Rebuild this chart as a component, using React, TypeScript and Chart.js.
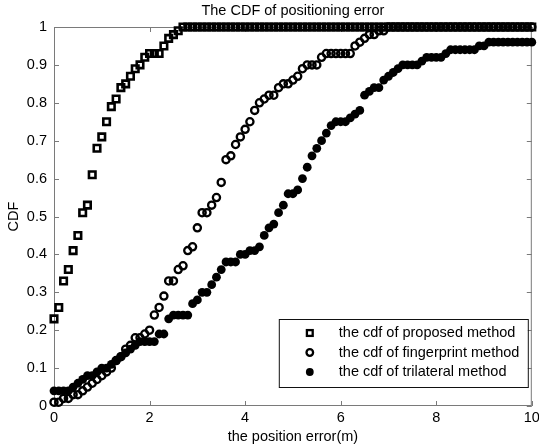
import React, { useEffect, useRef } from 'react';
import { Chart, registerables } from 'chart.js';

Chart.register(...registerables);

const chartTitle = 'The CDF of positioning error';
const xAxisTitle = 'the position error(m)';
const yAxisTitle = 'CDF';

const seriesLabels = [
  'the cdf of proposed method',
  'the cdf of fingerprint method',
  'the cdf of trilateral method',
];

// sampling grid of the position error (m), step 0.1 from 0 to 10
const errorSteps: number[] = Array.from({ length: 101 }, (_, i) => i / 10);

const proposedCdf = [
  0.23, 0.26, 0.33, 0.36, 0.41, 0.45, 0.51, 0.53, 0.61, 0.68,
  0.71, 0.75, 0.79, 0.81, 0.84, 0.85, 0.87, 0.89, 0.90, 0.92,
  0.93, 0.93, 0.93, 0.95, 0.97, 0.98, 0.99, 1, 1, 1,
  1, 1, 1, 1, 1, 1, 1, 1, 1, 1,
  1, 1, 1, 1, 1, 1, 1, 1, 1, 1,
  1, 1, 1, 1, 1, 1, 1, 1, 1, 1,
  1, 1, 1, 1, 1, 1, 1, 1, 1, 1,
  1, 1, 1, 1, 1, 1, 1, 1, 1, 1,
  1, 1, 1, 1, 1, 1, 1, 1, 1, 1,
  1, 1, 1, 1, 1, 1, 1, 1, 1, 1,
  1,
];

const fingerprintCdf = [
  0.01, 0.01, 0.02, 0.02, 0.03, 0.03, 0.04, 0.05, 0.06, 0.07,
  0.08, 0.09, 0.10, 0.12, 0.13, 0.15, 0.16, 0.18, 0.18, 0.19,
  0.20, 0.24, 0.26, 0.29, 0.33, 0.33, 0.36, 0.37, 0.41, 0.42,
  0.47, 0.51, 0.51, 0.53, 0.55, 0.59, 0.65, 0.66, 0.69, 0.71,
  0.73, 0.75, 0.78, 0.80, 0.81, 0.82, 0.82, 0.84, 0.85, 0.85,
  0.86, 0.87, 0.89, 0.90, 0.90, 0.90, 0.92, 0.93, 0.93, 0.93,
  0.93, 0.93, 0.93, 0.95, 0.96, 0.97, 0.98, 0.98, 0.99, 0.99,
  1, 1, 1, 1, 1, 1, 1, 1, 1, 1,
  1, 1, 1, 1, 1, 1, 1, 1, 1, 1,
  1, 1, 1, 1, 1, 1, 1, 1, 1, 1,
  1,
];

const trilateralCdf = [
  0.04, 0.04, 0.04, 0.04, 0.05, 0.06, 0.07, 0.08, 0.08, 0.09,
  0.10, 0.10, 0.11, 0.12, 0.13, 0.14, 0.15, 0.16, 0.17, 0.17,
  0.17, 0.17, 0.19, 0.19, 0.23, 0.24, 0.24, 0.24, 0.24, 0.27,
  0.28, 0.30, 0.30, 0.32, 0.34, 0.36, 0.38, 0.38, 0.38, 0.40,
  0.40, 0.41, 0.41, 0.42, 0.45, 0.47, 0.48, 0.51, 0.53, 0.56,
  0.56, 0.57, 0.60, 0.63, 0.66, 0.68, 0.70, 0.72, 0.74, 0.75,
  0.75, 0.75, 0.76, 0.77, 0.78, 0.82, 0.83, 0.84, 0.84, 0.86,
  0.87, 0.88, 0.89, 0.90, 0.90, 0.90, 0.90, 0.91, 0.92, 0.92,
  0.92, 0.92, 0.93, 0.94, 0.94, 0.94, 0.94, 0.94, 0.94, 0.95,
  0.95, 0.96, 0.96, 0.96, 0.96, 0.96, 0.96, 0.96, 0.96, 0.96,
  0.96,
];

const xTicks = [0, 2, 4, 6, 8, 10];
const xTickLabels = ['0', '2', '4', '6', '8', '10'];
const yTicks = [0, 0.1, 0.2, 0.3, 0.4, 0.5, 0.6, 0.7, 0.8, 0.9, 1];
const yTickLabels = ['0', '0.1', '0.2', '0.3', '0.4', '0.5', '0.6', '0.7', '0.8', '0.9', '1'];

const FONT_FAMILY = '"Liberation Sans", Arial, Helvetica, sans-serif';
const FONT_SIZE = 14.5;

const markerStyles = ['square', 'circle', 'dot'];

function drawMarker(ctx: CanvasRenderingContext2D, kind: string, x: number, y: number) {
  ctx.save();
  ctx.strokeStyle = '#000';
  ctx.fillStyle = '#000';
  ctx.lineWidth = 2.3;
  if (kind === 'square') {
    ctx.strokeRect(x - 2.9, y - 2.9, 5.8, 5.8);
  } else if (kind === 'circle') {
    ctx.beginPath();
    ctx.arc(x, y, 3.3, 0, Math.PI * 2);
    ctx.stroke();
  } else {
    ctx.beginPath();
    ctx.arc(x, y, 3.9, 0, Math.PI * 2);
    ctx.fill();
  }
  ctx.restore();
}

const framePlugin = {
  id: 'matlabFrame',
  beforeDatasetsDraw(chart: any) {
    const { ctx, chartArea: a, scales } = chart;
    ctx.save();
    ctx.strokeStyle = '#7a7a7a';
    ctx.lineWidth = 1;
    ctx.strokeRect(a.left + 0.5, a.top + 0.5, a.right - a.left - 1, a.bottom - a.top - 1);
    const len = 5;
    ctx.beginPath();
    xTicks.forEach((v) => {
      const px = Math.round(scales.x.getPixelForValue(v)) + 0.5;
      ctx.moveTo(px, a.bottom);
      ctx.lineTo(px, a.bottom - len);
      ctx.moveTo(px, a.top);
      ctx.lineTo(px, a.top + len);
    });
    yTicks.forEach((v) => {
      const py = Math.round(scales.y.getPixelForValue(v)) + 0.5;
      ctx.moveTo(a.left, py);
      ctx.lineTo(a.left + len, py);
      ctx.moveTo(a.right, py);
      ctx.lineTo(a.right - len, py);
    });
    ctx.stroke();
    ctx.restore();
  },
};

const legendPlugin = {
  id: 'matlabLegend',
  afterDatasetsDraw(chart: any) {
    const { ctx, chartArea: a } = chart;
    const right = a.right - 4;
    const width = 249;
    const bottom = a.bottom - 19;
    const height = 68;
    const left = right - width;
    const top = bottom - height;
    ctx.save();
    ctx.fillStyle = '#fff';
    ctx.fillRect(left, top, width, height);
    ctx.strokeStyle = '#111';
    ctx.lineWidth = 1;
    ctx.strokeRect(left + 0.5, top + 0.5, width, height);
    ctx.font = `${FONT_SIZE}px ${FONT_FAMILY}`;
    ctx.textBaseline = 'middle';
    ctx.textAlign = 'left';
    chart.data.datasets.forEach((ds: any, i: number) => {
      const y = top + 14 + i * 19.5;
      drawMarker(ctx, markerStyles[i], left + 31, y);
      ctx.fillStyle = '#000';
      ctx.fillText(ds.label, left + 60, y);
    });
    ctx.restore();
  },
};

export default function App() {
  const canvasRef = useRef<HTMLCanvasElement | null>(null);

  useEffect(() => {
    if (!canvasRef.current) return;
    const font = { family: FONT_FAMILY, size: FONT_SIZE, weight: 'normal' as const };
    const toPoints = (vals: number[]) => errorSteps.map((x, i) => ({ x, y: vals[i] }));

    const chart = new Chart(canvasRef.current, {
      type: 'scatter',
      data: {
        datasets: [
          {
            label: seriesLabels[0],
            data: toPoints(proposedCdf),
            pointStyle: 'rect',
            pointRadius: 4.6,
            pointBorderWidth: 2.6,
            pointBorderColor: '#000',
            pointBackgroundColor: 'rgba(0,0,0,0)',
            showLine: false,
            clip: false,
            order: 2,
          } as any,
          {
            label: seriesLabels[1],
            data: toPoints(fingerprintCdf),
            pointStyle: 'circle',
            pointRadius: 3.6,
            pointBorderWidth: 2.3,
            pointBorderColor: '#000',
            pointBackgroundColor: 'rgba(0,0,0,0)',
            showLine: false,
            clip: false,
            order: 1,
          } as any,
          {
            label: seriesLabels[2],
            data: toPoints(trilateralCdf),
            pointStyle: 'circle',
            pointRadius: 4.4,
            pointBorderWidth: 0,
            pointBorderColor: '#000',
            pointBackgroundColor: '#000',
            showLine: false,
            clip: false,
            order: 0,
          } as any,
        ],
      },
      options: {
        responsive: false,
        animation: false,
        events: [],
        layout: { padding: { left: 0, right: 7, top: 0, bottom: 0 } },
        plugins: {
          legend: { display: false },
          tooltip: { enabled: false },
          title: {
            display: true,
            text: chartTitle,
            fullSize: false,
            color: '#000',
            font,
            padding: { top: 1.8, bottom: 7.8 },
          },
        },
        scales: {
          x: {
            type: 'linear',
            min: 0,
            max: 10,
            afterBuildTicks: (s: any) => {
              s.ticks = xTicks.map((v) => ({ value: v }));
            },
            afterFit: (s: any) => {
              s.height = 42;
              s.paddingLeft = 0;
              s.paddingRight = 0;
            },
            grid: { display: false, drawTicks: false },
            border: { display: false },
            ticks: {
              padding: 3,
              color: '#000',
              font,
              maxRotation: 0,
              autoSkip: false,
              callback: (_v: any, idx: number) => xTickLabels[idx],
            },
            title: {
              display: true,
              text: xAxisTitle,
              color: '#000',
              font,
              padding: { top: 0, bottom: 2.3 },
            },
          },
          y: {
            type: 'linear',
            min: 0,
            max: 1,
            afterBuildTicks: (s: any) => {
              s.ticks = yTicks.map((v) => ({ value: v }));
            },
            afterFit: (s: any) => {
              s.width = 54;
            },
            grid: { display: false, drawTicks: false },
            border: { display: false },
            ticks: {
              padding: 7,
              color: '#000',
              font,
              autoSkip: false,
              callback: (_v: any, idx: number) => yTickLabels[idx],
            },
            title: {
              display: true,
              text: yAxisTitle,
              color: '#000',
              font,
              padding: { top: 5.3, bottom: 0 },
            },
          },
        },
      } as any,
      plugins: [framePlugin, legendPlugin],
    });

    return () => chart.destroy();
  }, []);

  return (
    <div style={{ position: 'absolute', left: 0, top: 0, width: 539, height: 448, background: '#fff' }}>
      <canvas ref={canvasRef} width={539} height={448} />
    </div>
  );
}
